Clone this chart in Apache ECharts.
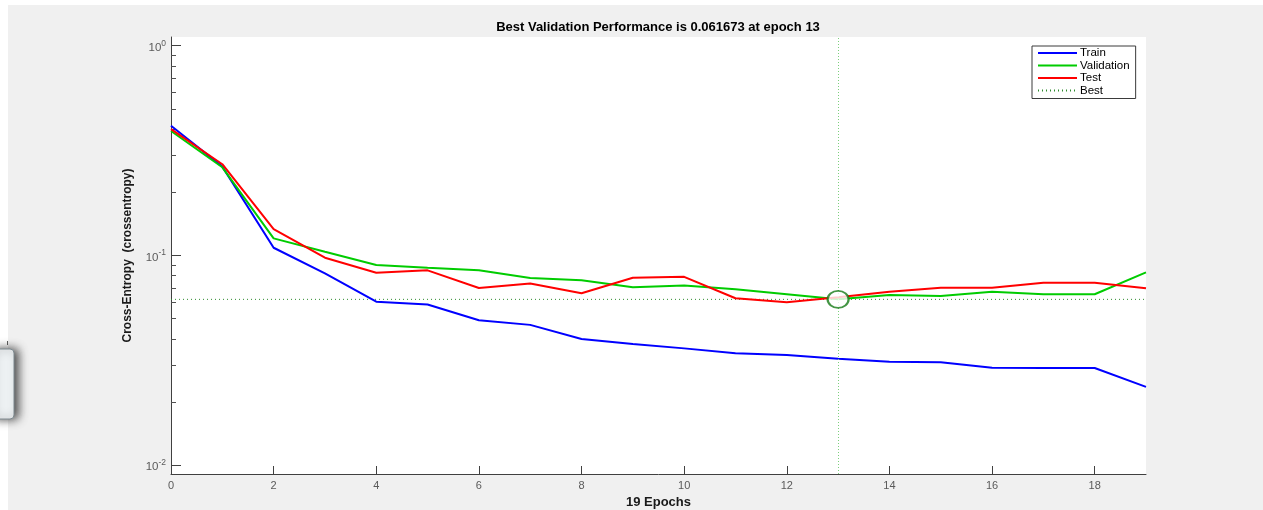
<!DOCTYPE html>
<html>
<head>
<meta charset="utf-8">
<script src="https://cdn.jsdelivr.net/npm/echarts@6/dist/echarts.min.js"></script>
<style>
  html, body { margin: 0; padding: 0; background: #ffffff; }
  #chart { width: 1263px; height: 510px; }
</style>
</head>
<body>
<div id="chart"></div>
<script>
const epochs = [0, 1, 2, 3, 4, 5, 6, 7, 8, 9, 10, 11, 12, 13, 14, 15, 16, 17, 18, 19];
const trainLoss = [0.415, 0.265, 0.1087, 0.082, 0.0601, 0.0583, 0.049, 0.0466, 0.0399, 0.0378, 0.036, 0.0341, 0.0335, 0.0321, 0.0311, 0.0309, 0.0291, 0.029, 0.029, 0.0236];
const validationLoss = [0.392, 0.263, 0.1205, 0.104, 0.09, 0.0873, 0.0848, 0.0779, 0.0761, 0.0704, 0.0719, 0.0689, 0.0653, 0.061673, 0.0647, 0.064, 0.0671, 0.0652, 0.0652, 0.0829];
const testLoss = [0.4, 0.272, 0.1334, 0.0974, 0.0826, 0.0848, 0.0699, 0.0734, 0.0659, 0.0782, 0.079, 0.0624, 0.0597, 0.0631, 0.0671, 0.0701, 0.0701, 0.074, 0.074, 0.0696];
const bestEpoch = 13;
const bestValue = 0.061673;
const xTicks = [0, 2, 4, 6, 8, 10, 12, 14, 16, 18];
const yMajorTicks = [0.01, 0.1, 1];
const yMinorTicks = [0.02, 0.03, 0.04, 0.05, 0.06, 0.07, 0.08, 0.09, 0.2, 0.3, 0.4, 0.5, 0.6, 0.7, 0.8, 0.9];
const xRange = [0, 19];
const yRange = [0.00906, 1.1];
const titleText = 'Best Validation Performance is 0.061673 at epoch 13';
const xName = '19 Epochs';
const yName = 'Cross-Entropy  (crossentropy)';

const FONT = '"Liberation Sans", Arial, Helvetica, sans-serif';
const pairs = arr => epochs.map((e, i) => [e, arr[i]]);

const chart = echarts.init(document.getElementById('chart'), null, { renderer: 'canvas' });

const yAxisBase = {
  type: 'log',
  logBase: 10,
  min: yRange[0],
  max: yRange[1],
  position: 'left',
  offset: 0,
  splitLine: { show: false },
  minorTick: { show: false },
  minorSplitLine: { show: false }
};

chart.setOption({
  animation: false,
  backgroundColor: '#f0f0f0',
  textStyle: { fontFamily: FONT },
  title: {
    text: titleText,
    left: 658,
    top: 21,
    padding: 0,
    textAlign: 'center',
    textStyle: { fontFamily: FONT, fontSize: 13, fontWeight: 'bold', color: '#000' }
  },
  graphic: [
    { type: 'rect', shape: { x: 0, y: 0, width: 1263, height: 5 }, style: { fill: '#ffffff' }, z: -10 },
    { type: 'rect', shape: { x: 0, y: 0, width: 8, height: 510 }, style: { fill: '#ffffff' }, z: -10 },
    { type: 'rect', shape: { x: -10, y: 349, width: 24, height: 70, r: 4 },
      style: { fill: '#eef2f4', stroke: '#7e8a90', lineWidth: 1, shadowBlur: 10, shadowOffsetX: 4, shadowColor: 'rgba(0,0,0,0.7)' }, z: 10 },
    { type: 'rect', shape: { x: 7, y: 341, width: 1, height: 4 }, style: { fill: '#555' }, z: 10 }
  ],
  legend: {
    data: ['Train', 'Validation', 'Test', 'Best'],
    orient: 'vertical',
    left: 1032,
    top: 46,
    padding: [1, 6, 2, 5],
    itemWidth: 39,
    itemHeight: 12,
    itemGap: 0.5,
    backgroundColor: '#ffffff',
    borderColor: '#3a3a3a',
    borderWidth: 1,
    borderRadius: 0,
    itemStyle: { color: 'rgba(0,0,0,0)', borderColor: 'rgba(0,0,0,0)', borderWidth: 0 },
    textStyle: { fontFamily: FONT, fontSize: 11.5, color: '#000', padding: [0, 0, 0, -2] },
    selectedMode: false
  },
  grid: {
    left: 171,
    right: 117,
    top: 37,
    bottom: 36,
    show: true,
    backgroundColor: '#ffffff',
    borderWidth: 0,
    containLabel: false,
    outerBoundsMode: 'none'
  },
  xAxis: {
    type: 'value',
    min: xRange[0],
    max: xRange[1],
    interval: 2,
    name: xName,
    nameLocation: 'middle',
    nameGap: 20,
    nameTextStyle: { fontFamily: FONT, fontSize: 13, fontWeight: 'bold', color: '#1a1a1a' },
    axisLine: { show: true, onZero: false, lineStyle: { color: '#404040', width: 1 } },
    axisTick: { show: true, inside: true, length: 8, customValues: xTicks, lineStyle: { color: '#404040' } },
    axisLabel: { customValues: xTicks, margin: 6, fontSize: 11, color: '#5a5a5a', fontFamily: FONT },
    splitLine: { show: false }
  },
  yAxis: [
    Object.assign({}, yAxisBase, {
      name: yName,
      nameLocation: 'middle',
      nameGap: 37,
      nameTextStyle: { fontFamily: FONT, fontSize: 12, fontWeight: 'bold', color: '#1a1a1a' },
      axisLine: { show: true, lineStyle: { color: '#404040', width: 1 } },
      axisTick: { show: true, inside: true, length: 10, customValues: yMajorTicks, lineStyle: { color: '#404040' } },
      axisLabel: {
        customValues: yMajorTicks,
        margin: 5,
        formatter: v => '{b|10}{s|' + Math.round(Math.log10(v)) + '}',
        rich: {
          b: { fontSize: 11.5, color: '#5a5a5a', fontFamily: FONT, padding: [4, 0, 0, 0] },
          s: { fontSize: 8.5, color: '#5a5a5a', fontFamily: FONT, padding: [0, 0, 5, 0] }
        }
      }
    }),
    Object.assign({}, yAxisBase, {
      axisLine: { show: false },
      axisTick: { show: true, inside: true, length: 5, customValues: yMinorTicks, lineStyle: { color: '#505050' } },
      axisLabel: { show: false }
    })
  ],
  series: [
    {
      name: 'Train', type: 'line', data: pairs(trainLoss), symbol: 'none',
      color: '#0000ff', lineStyle: { color: '#0000ff', width: 2 }, z: 3
    },
    {
      name: 'Validation', type: 'line', data: pairs(validationLoss), symbol: 'none',
      color: '#00cc00', lineStyle: { color: '#00cc00', width: 2 }, z: 3
    },
    {
      name: 'Test', type: 'line', data: pairs(testLoss), symbol: 'none',
      color: '#ff0000', lineStyle: { color: '#ff0000', width: 2 }, z: 4
    },
    {
      name: 'Best', type: 'line', data: [[xRange[0], bestValue], [xRange[1], bestValue]], symbol: 'none',
      color: '#2e8b2e', lineStyle: { color: '#2e8b2e', width: 1, type: [1, 3] }, z: 2,
      markLine: {
        silent: true, symbol: 'none', label: { show: false },
        lineStyle: { color: '#7ccf7c', width: 1, type: [1, 2] },
        data: [{ xAxis: bestEpoch }]
      }
    },
    {
      name: 'BestPoint', type: 'scatter', data: [[bestEpoch, bestValue]],
      symbol: 'emptyCircle', symbolSize: [21, 17],
      itemStyle: { color: '#157a15', borderColor: '#157a15', borderWidth: 1.5 }, z: 5
    }
  ]
});
</script>
</body>
</html>
